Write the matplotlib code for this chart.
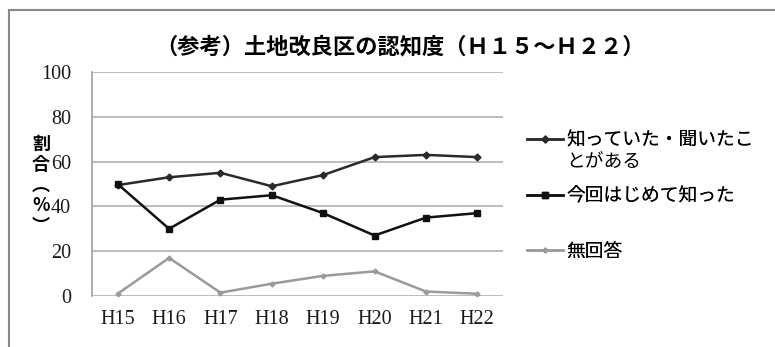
import matplotlib
matplotlib.use("Agg")
import matplotlib.pyplot as plt
from matplotlib.lines import Line2D

years = ["H15", "H16", "H17", "H18", "H19", "H20", "H21", "H22"]
known = [49.5, 53, 55, 49, 54, 62, 63, 62]
first_time = [50, 30, 43, 45, 37, 27, 35, 37]
no_answer = [1, 17, 1.5, 5.5, 9, 11, 2, 1]
labels = ["知っていた・聞いたこ", "今回はじめて知った", "無回答"]
label1_cont = "とがある"
yticks = [0, 20, 40, 60, 80, 100]

JP = ["Noto Sans CJK JP", "DejaVu Sans"]
SERIF = ["Liberation Serif", "DejaVu Serif"]

fig = plt.figure(figsize=(7.75, 3.47), dpi=100)
ax = fig.add_axes([92/775, 1-296/347, (503-92)/775, (296-72)/347])

x = list(range(len(years)))
l1, = ax.plot(x, known, color="#2a2a2a", lw=1.8, marker="D", ms=3.5, label=labels[0], zorder=3)
l2, = ax.plot(x, first_time, color="#111111", lw=1.8, marker="s", ms=4, label=labels[1], zorder=3)
l3, = ax.plot(x, no_answer, color="#9a9a9a", lw=1.8, marker="D", ms=2.5, label=labels[2], zorder=3)

ax.set_xlim(-0.5, len(years)-0.5)
ax.set_ylim(0, 100)
ax.set_yticks(yticks)
ax.set_xticks(x)
ax.set_xticklabels(years, family=SERIF, fontsize=14.5, color="#1a1a1a")
ax.set_yticklabels([str(v) for v in yticks], family=SERIF, fontsize=14.5, color="#1a1a1a")
ax.tick_params(axis="y", length=0, pad=15)
ax.tick_params(axis="x", length=0, pad=10)
ax.yaxis.grid(True, color="#b0b0b0", lw=1.2)
ax.set_axisbelow(True)
for s in ["top", "right", "bottom"]:
    ax.spines[s].set_visible(False)
ax.spines["left"].set_color("#a0a0a0")
ax.spines["left"].set_linewidth(1.2)

fig.text(400/775, 1-47/347, "（参考）土地改良区の認知度（Ｈ１５～Ｈ２２）", family=JP,
         fontsize=16, fontweight="bold", ha="center", va="center")
fig.text(41/775, 1-185/347, "割\n合\n︵\n%\n︶", family=JP, fontsize=13,
         fontweight="bold", ha="center", va="center", linespacing=1.1)

ypos = [140, 196, 251]
legs = []
for h, yp in zip([l1, l2, l3], ypos):
    lg = fig.legend(handles=[h], loc="center left", bbox_to_anchor=(527/775, 1-yp/347),
                    frameon=False, prop={"family": JP, "size": 13.5}, handlelength=1.9,
                    handletextpad=0.2, borderaxespad=0, borderpad=0)
    fig.add_artist(lg)
    legs.append(lg)

fig.canvas.draw()
t0 = legs[0].get_texts()[0]
bb = t0.get_window_extent(renderer=fig.canvas.get_renderer())
fig.text(bb.x0/fig.bbox.width, 1-162/347, label1_cont, family=JP, fontsize=13.5,
         ha="left", va="center")

fig.add_artist(Line2D([9/775, 9/775], [0, 1-10/347], color="#888888", lw=1.5))
fig.add_artist(Line2D([9/775, 1], [1-10/347, 1-10/347], color="#888888", lw=1.5))

fig.savefig("out.png", dpi=100)
